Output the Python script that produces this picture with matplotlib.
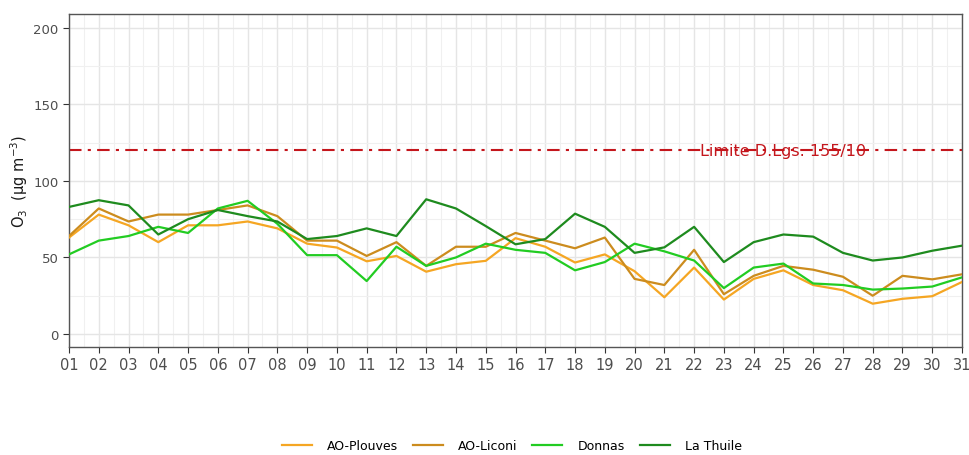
import matplotlib
matplotlib.use("Agg")
import matplotlib.pyplot as plt
from matplotlib.ticker import MultipleLocator

days = [f"{d:02d}" for d in range(1, 32)]
plouves = [63, 78, 71, 60, 71, 71, 73.5, 69, 59, 56.5, 47.5, 51, 40.7, 45.6, 47.8, 62.6, 57, 46.7, 52, 41, 24,
           43.4, 22.5, 36, 41.6, 32, 28.6, 19.8, 23, 24.7, 34]
liconi = [64, 82, 73.5, 78, 78, 81, 84, 77, 61, 61, 51, 60, 44.5, 57, 57, 66, 61, 56, 63, 36, 32,
          55, 26, 38, 44.5, 42, 37.4, 25, 38, 35.7, 39]
donnas = [52, 61, 64, 70, 66, 82, 87, 72, 51.5, 51.5, 34.6, 57, 44.5, 50, 59, 55, 53, 41.6, 47, 59, 54,
          48, 30, 43.4, 46, 33, 32, 29, 29.7, 31, 37]
lathuile = [83, 87.4, 84, 65, 75, 81, 77, 73.5, 62, 64, 69, 64, 88, 82, 70.5, 58.6, 62, 78.6, 70, 53, 56.6,
            70, 47, 60, 65, 63.6, 53, 48, 50, 54.4, 57.7]
series_names = ["AO-Plouves", "AO-Liconi", "Donnas", "La Thuile"]
series_values = [plouves, liconi, donnas, lathuile]
series_colors = ["#F5A623", "#CC8C1E", "#22CC22", "#1E8B1E"]
limit_value = 120
limit_label = "Limite D.Lgs. 155/10"

fig = plt.figure(figsize=(9.69, 4.56), dpi=100)
ax = fig.add_axes([0.0712, 0.2368, 0.9216, 0.7302])

x = list(range(1, 32))
for name, vals, col in zip(series_names, series_values, series_colors):
    ax.plot(x, vals, color=col, lw=1.6, label=name, zorder=3)

ax.axhline(limit_value, color="#C4161C", lw=1.5, ls=(0, (6, 3, 1.5, 3)), zorder=2)
ax.text(25, limit_value, limit_label, color="#C4161C", fontsize=11.5, ha="center", va="center", zorder=4)

ax.set_xlim(1, 31)
ax.set_ylim(-8.5, 209)
ax.set_xticks(x)
ax.set_xticklabels(days)
ax.set_yticks([0, 50, 100, 150, 200])
ax.xaxis.set_minor_locator(MultipleLocator(0.5))
ax.yaxis.set_minor_locator(MultipleLocator(25))
ax.grid(which="major", color="#E5E5E5", lw=1.0, zorder=0)
ax.grid(which="minor", color="#F0F0F0", lw=0.8, zorder=0)
ax.set_axisbelow(True)
for s in ax.spines.values():
    s.set_color("#555555")
    s.set_linewidth(1.0)
ax.tick_params(axis="x", which="major", labelsize=10.5, colors="#333333", length=4, labelcolor="#4D4D4D")
ax.tick_params(axis="y", which="major", labelsize=9.5, colors="#333333", length=4, labelcolor="#4D4D4D")
ax.tick_params(which="minor", length=0)
ax.set_ylabel(r"O$_3$  (µg m$^{-3}$)", fontsize=10.5, color="#1a1a1a", labelpad=2)

fig.legend(*ax.get_legend_handles_labels(), loc="center", bbox_to_anchor=(0.528, 0.02), ncol=4,
           frameon=False, fontsize=9, handlelength=2.4, columnspacing=1.2, handletextpad=1.2)

fig.savefig("out.png", dpi=100)
